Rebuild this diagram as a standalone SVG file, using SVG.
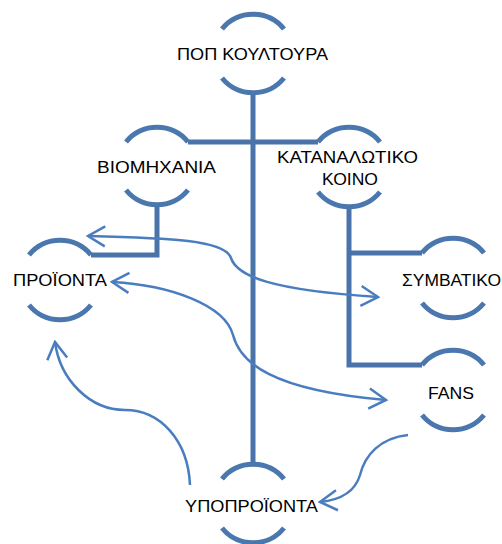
<svg xmlns="http://www.w3.org/2000/svg" width="502" height="544" viewBox="0 0 502 544">
<style>
.arc{fill:none;stroke:#4a77ad;stroke-width:5;stroke-linecap:butt}
.link{fill:none;stroke:#4a74a9;stroke-width:5;stroke-linejoin:miter}
.arr{fill:none;stroke:#4a7dc0;stroke-width:2.5}
text{font-family:"Liberation Sans",Arial,sans-serif;font-size:17px;fill:#000}
</style>
<defs>
<marker id="ah" viewBox="-22 -12 24 24" refX="0" refY="0" markerWidth="24" markerHeight="24" markerUnits="userSpaceOnUse" orient="auto-start-reverse">
<path d="M-17,-10 L0,0 L-17,10" fill="none" stroke="#4a7dc0" stroke-width="2.5"/>
</marker>
</defs>
<rect width="502" height="544" fill="#fff"/>
<g id="connectors">
<path class="link" d="M253,93 V463"/>
<path class="link" d="M188,142 H318"/>
<path class="link" d="M157,205 V255 H91"/>
<path class="link" d="M349,207 V365 H422"/>
<path class="link" d="M349,253 H422"/>
<path class="arr" d="M88,236 C170,238 225,240 231,258 C237,276 270,290 378,297" marker-start="url(#ah)" marker-end="url(#ah)"/>
<path class="arr" d="M112,282 C170,285 225,305 233,335 C240,362 270,390 386,400" marker-start="url(#ah)" marker-end="url(#ah)"/>
<path class="arr" d="M190,485 C188,440 160,410 125,410 C90,410 60,380 55,342" marker-end="url(#ah)"/>
<path class="arr" d="M408,435 C380,438 365,455 360,475 C355,492 340,500 320,502" marker-end="url(#ah)"/>
</g>
<g id="n-pop">
<path class="arc" d="M222,29 A40,40 0 0 1 284,29"/>
<path class="arc" d="M222,78 A40,40 0 0 0 284,78"/>
<text x="177" y="60" textLength="151" lengthAdjust="spacingAndGlyphs">ΠΟΠ ΚΟΥΛΤΟΥΡΑ</text>
</g>
<g id="n-viomichania">
<path class="arc" d="M126,142 A40,40 0 0 1 188,142"/>
<path class="arc" d="M126,190 A40,40 0 0 0 188,190"/>
<text x="97" y="173" textLength="119" lengthAdjust="spacingAndGlyphs">ΒΙΟΜΗΧΑΝΙΑ</text>
</g>
<g id="n-katanalotiko">
<path class="arc" d="M318,142 A40,40 0 0 1 380,142"/>
<path class="arc" d="M318,192 A40,40 0 0 0 380,192"/>
<text x="277" y="163" textLength="141" lengthAdjust="spacingAndGlyphs">ΚΑΤΑΝΑΛΩΤΙΚΟ</text>
<text x="322" y="185" textLength="56" lengthAdjust="spacingAndGlyphs">ΚΟΙΝΟ</text>
</g>
<g id="n-proionta">
<path class="arc" d="M29,255 A40,40 0 0 1 91,255"/>
<path class="arc" d="M29,305 A40,40 0 0 0 91,305"/>
<text x="13" y="286" textLength="94" lengthAdjust="spacingAndGlyphs">ΠΡΟΪΟΝΤΑ</text>
</g>
<g id="n-symvatiko">
<path class="arc" d="M422,253 A40,40 0 0 1 484,253"/>
<path class="arc" d="M422,303 A40,40 0 0 0 484,303"/>
<text x="402" y="286" textLength="99" lengthAdjust="spacingAndGlyphs">ΣΥΜΒΑΤΙΚΟ</text>
</g>
<g id="n-fans">
<path class="arc" d="M422,365 A40,40 0 0 1 484,365"/>
<path class="arc" d="M422,415 A40,40 0 0 0 484,415"/>
<text x="428" y="399" textLength="46" lengthAdjust="spacingAndGlyphs">FANS</text>
</g>
<g id="n-ypoproionta">
<path class="arc" d="M222,479 A40,40 0 0 1 284,479"/>
<path class="arc" d="M222,528 A40,40 0 0 0 284,528"/>
<text x="185" y="512" textLength="133" lengthAdjust="spacingAndGlyphs">ΥΠΟΠΡΟΪΟΝΤΑ</text>
</g>
</svg>
